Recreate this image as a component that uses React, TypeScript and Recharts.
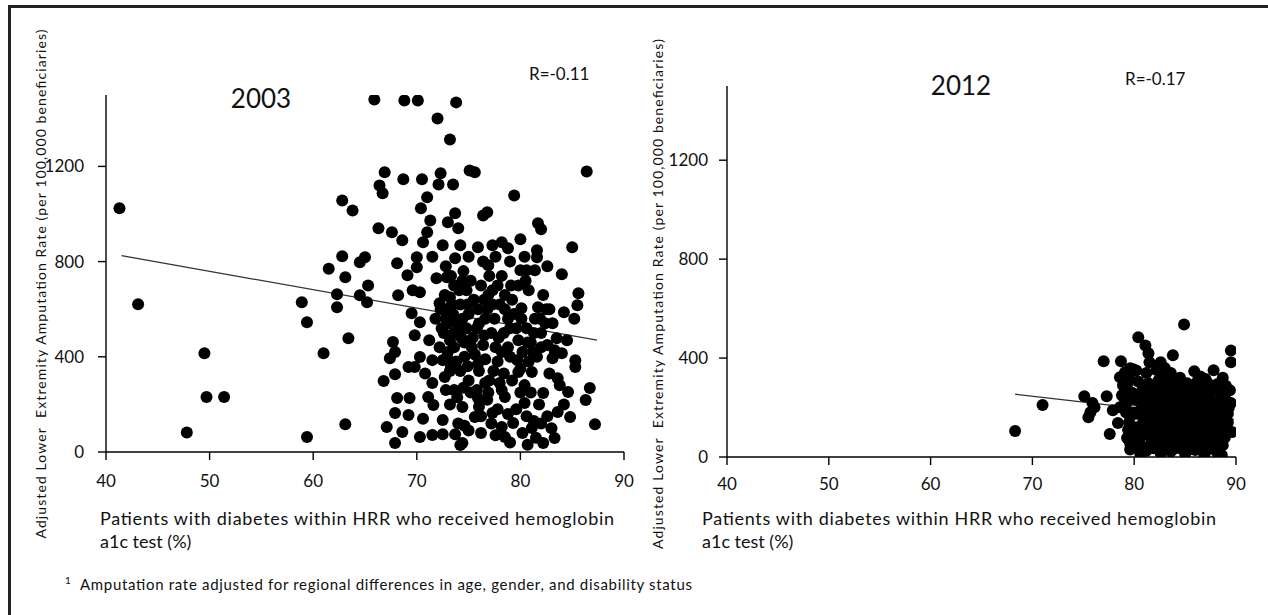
import React from 'react';
import { ScatterChart, Scatter, XAxis, YAxis, ReferenceLine } from 'recharts';

type Pt = [number, number];

const xTicks = [40, 50, 60, 70, 80, 90];
const yTicks = [0, 400, 800, 1200];

// 2003: percent of diabetics tested (x) vs adjusted amputation rate (y)
const sparse2003: Pt[] = [
  [41.3, 1024], [43.1, 621], [47.8, 82], [49.5, 415], [49.7, 231], [51.4, 231],
  [58.9, 629], [59.4, 545], [59.4, 63], [61.0, 415], [61.5, 770], [62.8, 822],
  [62.8, 1057], [63.8, 1015], [63.1, 734], [62.3, 663], [62.3, 608], [63.4, 478],
  [63.1, 117], [64.5, 797], [65.0, 818], [64.5, 659], [65.3, 700], [65.2, 629],
  [65.9, 1481], [66.3, 940], [66.4, 1120], [66.7, 1087], [66.9, 1175], [67.6, 923],
  [68.6, 890], [68.8, 1477], [70.1, 1477], [73.8, 1469], [72.0, 1401], [73.2, 1313],
  [68.7, 1146], [70.5, 1146], [72.3, 1171], [72.1, 1124], [73.5, 1124], [71.0, 1070],
  [70.4, 1024], [71.3, 973], [73.0, 965], [73.7, 1003], [71.0, 923], [70.6, 881],
  [72.5, 869], [68.1, 793], [70.0, 818], [70.0, 776], [73.7, 814],
  [75.1, 1183], [75.6, 1175], [86.4, 1179], [79.4, 1078], [76.8, 1007], [76.4, 994],
  [81.7, 961], [82.0, 936], [85.0, 860], [80.0, 894], [74.2, 869], [75.9, 860],
  [77.3, 869], [78.2, 881], [78.8, 856], [81.6, 848], [81.6, 818], [80.0, 764],
  [80.6, 764], [81.4, 764], [84.0, 747], [76.9, 785], [74.0, 940],
];

const cluster2003: Pt[] = [
  [68.2, 659], [69.1, 743], [69.6, 680], [70.3, 671], [71.9, 730], [72.9, 734],
  [69.5, 583], [70.3, 545], [69.8, 491], [72.2, 625], [73.2, 650], [67.7, 462],
  [67.9, 420], [67.4, 394], [70.3, 399], [69.2, 357], [69.8, 357], [71.5, 386],
  [72.5, 386], [67.9, 327], [66.8, 298], [72.7, 315], [68.1, 227], [69.3, 227],
  [71.1, 231], [71.6, 197], [67.9, 164], [69.2, 155], [72.5, 134], [67.1, 105],
  [68.6, 84], [67.9, 38], [70.3, 63], [71.5, 71], [72.5, 75], [73.7, 75], [74.2, 29],
  [85.6, 667], [85.5, 617], [84.2, 587], [81.7, 608], [80.1, 604], [82.4, 541],
  [83.1, 541], [83.5, 478], [83.3, 428], [83.1, 394], [84.0, 415], [85.3, 386],
  [85.3, 357], [83.6, 310], [86.7, 269], [84.6, 252], [86.3, 218], [87.2, 117],
  [83.6, 168], [84.8, 147], [82.2, 248], [82.2, 38], [83.3, 59], [81.1, 101],
  [80.4, 206], [80.4, 281], [79.8, 336], [81.1, 336], [79.7, 386], [78.2, 260],
  [78.5, 231], [75.9, 227], [74.4, 189], [75.6, 147], [77.3, 164], [78.2, 105],
  [79.3, 122], [78.5, 63], [74.4, 38],
  [74.5, 760], [75.2, 720], [74.8, 680], [75.5, 640], [76.2, 700], [77.0, 740],
  [77.8, 700], [78.5, 660], [79.2, 640], [78.0, 620], [76.8, 600], [77.5, 560],
  [78.8, 560], [79.6, 520], [78.4, 500], [77.2, 500], [76.0, 540], [75.0, 580],
  [74.2, 620], [73.5, 580], [73.0, 540], [72.6, 500], [73.2, 470], [74.0, 500],
  [74.6, 460], [75.4, 480], [76.4, 450], [77.6, 440], [78.8, 440], [79.8, 470],
  [80.6, 520], [81.4, 560], [82.0, 500], [81.0, 460], [80.2, 420], [79.0, 400],
  [77.8, 380], [76.6, 390], [75.6, 410], [74.6, 400], [73.8, 380], [73.0, 420],
  [72.8, 560], [73.6, 700], [74.4, 560], [75.8, 520], [76.9, 660], [79.8, 700],
  [80.8, 680], [82.2, 660], [82.8, 600], [81.6, 400], [80.8, 380], [82.6, 450],
  [76.0, 340], [77.0, 300], [75.0, 300], [74.2, 340], [78.4, 330], [79.2, 300],
  [80.0, 250], [81.8, 200], [82.6, 150], [82.0, 120], [80.6, 150], [79.6, 180],
  [76.8, 220], [77.8, 180], [76.2, 150], [77.2, 120], [78.8, 160], [75.2, 250],
  [73.2, 200], [73.6, 260], [72.8, 260], [74.0, 120], [75.0, 90], [76.2, 80],
  [77.6, 70], [79.0, 40], [80.2, 80], [81.5, 60], [83.0, 100], [84.2, 200],
  [83.8, 280], [82.8, 330], [84.5, 470], [85.2, 560], [81.0, 250], [72.2, 440],
  [71.8, 560], [71.2, 470], [70.8, 330], [71.5, 290], [73.2, 340], [74.4, 720],
  [76.4, 800], [75.0, 820], [77.6, 820], [79.0, 800], [80.4, 820], [82.6, 780],
  [71.5, 820], [72.8, 780], [70.6, 140],
  [72.9, 600], [73.4, 620], [73.9, 540], [74.3, 480], [73.6, 440], [72.9, 400],
  [73.3, 360], [74.8, 520], [75.3, 440], [75.9, 600], [76.6, 560], [77.3, 620],
  [77.9, 480], [78.5, 600], [79.4, 580], [79.0, 520], [78.2, 420], [76.5, 490],
  [75.9, 370], [74.9, 360], [73.6, 500], [72.4, 520], [72.3, 600], [72.7, 660],
  [73.3, 740], [74.1, 680], [74.9, 620], [76.5, 640], [77.3, 680], [78.2, 740],
  [79.1, 700], [80.5, 720], [80.1, 560], [80.7, 460], [81.3, 500], [81.9, 560],
  [82.5, 600], [82.0, 440], [81.2, 420], [80.0, 350], [77.4, 340], [76.6, 290],
  [78.0, 290], [75.8, 260], [76.9, 250], [74.5, 270], [73.9, 230], [74.6, 110],
  [76.0, 190], [81.3, 130], [80.7, 30],
];

const trend2003: Pt[] = [[41.5, 825], [87.4, 470]];

// 2012
const sparse2012: Pt[] = [
  [68.3, 105], [71.0, 210], [75.1, 246], [75.9, 218], [76.1, 201], [75.7, 181],
  [75.5, 161], [77.0, 387], [78.7, 387], [77.3, 246], [77.6, 93], [78.6, 322],
  [79.1, 343], [79.6, 359], [78.6, 201], [77.9, 189], [79.3, 77], [79.6, 56],
  [78.4, 137], [80.4, 484], [81.1, 451], [81.4, 419], [81.5, 383], [84.9, 536],
  [83.8, 411], [89.5, 431], [89.5, 383], [85.9, 347], [87.8, 351], [89.6, 101],
  [82.6, 383], [82.2, 352], [83.0, 360], [79.9, 355],
];

const cluster2012: Pt[] = [
  [81.2, 25], [82.6, 15], [83.8, 30], [85.0, 12], [86.0, 28], [86.9, 5], [88.1, 20],
  [88.6, 8], [80.4, 60], [81.6, 50], [82.4, 62], [83.3, 48], [84.4, 58], [85.5, 45],
  [86.6, 65], [87.5, 50], [88.7, 48], [80.0, 45], [79.8, 85], [80.9, 95], [82.0, 88],
  [83.0, 100], [84.1, 85], [85.2, 92], [86.1, 80], [87.0, 98], [88.0, 85],
  [80.2, 120], [81.3, 130], [82.2, 118], [83.5, 128], [84.6, 122], [85.6, 135],
  [86.5, 118], [87.6, 130], [88.5, 125], [89.2, 140], [79.6, 165], [81.8, 160],
  [82.8, 168], [83.9, 155], [84.9, 165], [85.9, 158], [86.8, 170], [87.9, 160],
  [88.8, 168], [80.6, 190], [81.5, 200], [82.5, 195], [83.4, 205], [84.4, 190],
  [85.4, 200], [86.3, 195], [87.3, 205], [88.3, 190], [89.3, 200], [80.1, 230],
  [81.0, 240], [82.0, 228], [83.0, 238], [84.0, 225], [85.0, 235], [85.9, 228],
  [86.9, 240], [88.0, 225], [89.0, 232], [80.8, 270], [81.8, 262], [82.8, 275],
  [83.7, 262], [84.6, 270], [85.5, 260], [86.5, 278], [88.5, 262], [89.4, 270],
  [80.4, 305], [81.4, 298], [82.4, 310], [83.3, 300], [84.3, 312], [85.2, 298],
  [86.2, 305], [87.2, 300], [88.2, 295], [89.0, 288], [81.2, 340], [82.8, 330],
  [83.6, 340], [84.5, 320], [86.5, 325], [87.0, 315], [88.7, 320], [79.4, 300],
  [79.8, 260], [79.3, 220], [79.9, 180], [79.5, 140], [80.0, 100], [79.6, 30],
  [80.6, 12],
  [81.0, 38], [81.9, 35], [82.9, 40], [83.6, 22], [84.5, 35], [85.4, 30], [86.2, 42],
  [87.2, 30], [88.0, 38], [80.6, 78], [81.7, 72], [82.7, 75], [83.7, 70], [84.8, 76],
  [85.8, 68], [86.9, 74], [87.9, 66], [88.9, 78], [80.5, 105], [81.6, 110], [82.6, 104],
  [83.8, 112], [84.9, 105], [85.9, 110], [86.9, 104], [87.9, 112], [88.9, 106],
  [80.9, 145], [81.9, 140], [82.9, 148], [84.2, 140], [85.2, 146], [86.1, 140],
  [87.2, 148], [88.1, 142], [89.0, 150], [80.2, 175], [81.2, 180], [82.2, 176],
  [83.3, 182], [84.2, 175], [85.2, 180], [86.1, 176], [87.1, 182], [88.2, 178],
  [89.2, 175], [80.9, 212], [81.9, 215], [82.9, 210], [83.8, 216], [84.8, 210],
  [85.7, 215], [86.7, 212], [87.8, 214], [88.7, 210], [89.5, 218], [80.4, 250],
  [81.5, 252], [82.4, 248], [83.4, 254], [84.3, 245], [85.3, 250], [86.3, 246],
  [87.4, 252], [88.6, 245], [81.0, 285], [82.0, 282], [83.0, 288], [84.0, 280],
  [85.0, 285], [86.0, 282], [87.0, 285], [87.9, 275], [88.8, 280],
  [79.2, 260], [79.0, 240], [79.5, 330], [80.2, 350], [79.2, 180], [78.8, 250],
  [79.4, 110], [78.9, 290],
];

const trend2012: Pt[] = [[68.3, 254], [89.8, 152]];

const FONT = 'Lato, "Open Sans", sans-serif';

const toRows = (pts: Pt[]) => pts.map(([x, y]) => ({ x, y }));

const Dot = (props: any) => <circle cx={props.cx} cy={props.cy} r={6} fill="#000" />;

interface PanelProps {
  left: number;
  width: number;
  height: number;
  margin: { top: number; right: number; bottom: number; left: number };
  points: Pt[];
  trend: Pt[];
  yMargin: number;
  xMargin: number;
}

const Panel = ({ left, width, height, margin, points, trend, yMargin, xMargin }: PanelProps) => {
  const tick = { fill: '#111', fontSize: 17, fontFamily: FONT };
  return (
    <div style={{ position: 'absolute', left, top: 0 }}>
      <ScatterChart width={width} height={height} margin={margin}>
        <XAxis
          type="number"
          dataKey="x"
          domain={[40, 90]}
          ticks={xTicks}
          allowDataOverflow
          height={30}
          tickSize={8}
          tickMargin={xMargin}
          tick={tick}
          axisLine={{ stroke: '#000', strokeWidth: 1.4 }}
          tickLine={{ stroke: '#000', strokeWidth: 1.4 }}
        />
        <YAxis
          type="number"
          dataKey="y"
          domain={[0, 1500]}
          ticks={yTicks}
          allowDataOverflow
          width={60}
          tickSize={8}
          tickMargin={yMargin}
          tick={tick}
          axisLine={{ stroke: '#000', strokeWidth: 1.4 }}
          tickLine={{ stroke: '#000', strokeWidth: 1.4 }}
        />
        <Scatter data={toRows(points)} shape={Dot} isAnimationActive={false} />
        <ReferenceLine
          segment={[
            { x: trend[0][0], y: trend[0][1] },
            { x: trend[1][0], y: trend[1][1] },
          ]}
          stroke="#333"
          strokeWidth={1.3}
        />
      </ScatterChart>
    </div>
  );
};

const yLabel = 'Adjusted Lower  Extremity Amputation Rate (per 100,000 beneficiaries)';
const xLabel1 = 'Patients with diabetes within HRR who received hemoglobin';
const xLabel2 = 'a1c test (%)';

export default function App() {
  return (
    <div style={{ position: 'absolute', left: 0, top: 0, width: 1268, height: 615, background: '#fff', overflow: 'hidden' }}>
      <div style={{ position: 'absolute', left: 8, top: 5, width: 1300, height: 700, borderTop: '3px solid #222', borderLeft: '3px solid #222' }} />
      <Panel
        left={0}
        width={640}
        height={490}
        margin={{ top: 95, right: 16, bottom: 8, left: 46 }}
        points={[...sparse2003, ...cluster2003]}
        trend={trend2003}
        yMargin={14}
        xMargin={15}
      />
      <Panel
        left={640}
        width={628}
        height={495}
        margin={{ top: 86, right: 32, bottom: 8, left: 27 }}
        points={[...sparse2012, ...cluster2012]}
        trend={trend2012}
        yMargin={11}
        xMargin={13}
      />
      <svg width={1268} height={615} style={{ position: 'absolute', left: 0, top: 0, pointerEvents: 'none' }} fontFamily={FONT} fill="#111">
        <text x={261} y={108} fontSize={26} textAnchor="middle">2003</text>
        <text x={529} y={80} fontSize={17}>R=-0.11</text>
        <text x={961} y={95} fontSize={26} textAnchor="middle">2012</text>
        <text x={1125} y={85} fontSize={17}>R=-0.17</text>

        <text transform="translate(40,284) rotate(-90)" fontSize={14} textAnchor="middle" dominantBaseline="central" textLength={509} lengthAdjust="spacing" style={{ whiteSpace: 'pre' }}>{yLabel}</text>
        <text transform="translate(657,294) rotate(-90)" fontSize={14} textAnchor="middle" dominantBaseline="central" textLength={510} lengthAdjust="spacing" style={{ whiteSpace: 'pre' }}>{yLabel}</text>

        <text x={100} y={525} fontSize={18} textLength={514} lengthAdjust="spacing">{xLabel1}</text>
        <text x={100} y={548} fontSize={18}>{xLabel2}</text>
        <text x={702} y={525} fontSize={18} textLength={514} lengthAdjust="spacing">{xLabel1}</text>
        <text x={702} y={548} fontSize={18}>{xLabel2}</text>

        <text x={65} y={584} fontSize={10}>1</text>
        <text x={80} y={590} fontSize={15} textLength={612} lengthAdjust="spacing">Amputation rate adjusted for regional differences in age, gender,  and disability status</text>
      </svg>
    </div>
  );
}
